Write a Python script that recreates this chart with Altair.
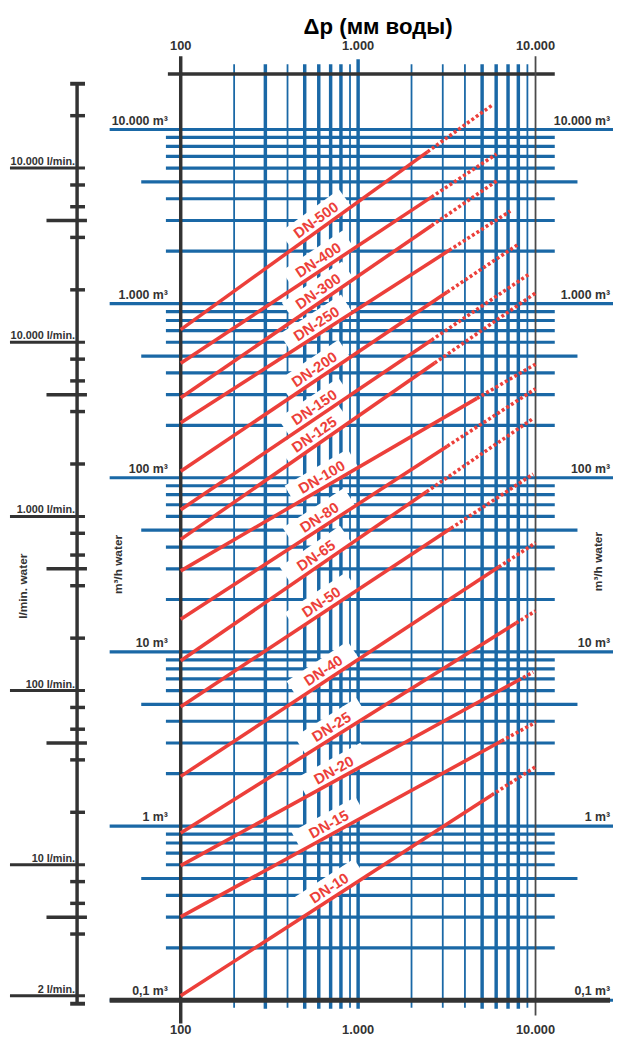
import math
import altair as alt
import pandas as pd

# ---------------- values ----------------
dn_labels = ["DN-500", "DN-400", "DN-300", "DN-250", "DN-200", "DN-150", "DN-125", "DN-100",
             "DN-80", "DN-65", "DN-50", "DN-40", "DN-25", "DN-20", "DN-15", "DN-10"]
# flow (m3/h) at dp = 100 mm water
q_start = [709, 455, 288, 207, 109, 65.5, 44.3, 29.2, 15.4, 8.9, 4.85, 1.93, 0.913, 0.593, 0.301, 0.106]
# end of each line (dp in mm water, flow in m3/h)
dp_end = [5650, 6030, 6190, 7210, 8100, 9320, 10000, 10000, 10000, 9700, 9700, 10000, 10000, 9700, 10000, 10000]
q_end = [13700, 7230, 5150, 3400, 2210, 1490, 1150, 449, 324, 219, 105, 42.3, 17.2, 7.66, 3.94, 2.19]
# dp where the dotted part of each line begins
dp_dotted = [2460, 2590, 2590, 3260, 3180, 2590, 2700, 4670, 3180, 2430, 3340, 6200, 7770, 8000, 6430, 5650]
# dp where each DN label sits on its line
dp_label = [624, 641, 641, 624, 609, 609, 609, 666, 649, 624, 666, 683, 757, 776, 728, 738]

# grid
q_decades = [0.1, 1, 10, 100, 1000, 10000]
q_fives = [0.5, 5, 50, 500, 5000]
q_minor = [d * m for d in [0.1, 1, 10, 100, 1000] for m in [2, 3, 4, 6, 7, 8, 9]]
dp_thick = [300, 500, 600, 700, 800, 1000, 5000, 6000, 7000, 8000]
dp_thin = [200, 400, 900, 2000, 3000, 4000, 9000]

# axis labels
dp_ticks = [100, 1000, 10000]
dp_tick_text = ["100", "1.000", "10.000"]
q_label_vals = [10000, 1000, 100, 10, 1, 0.1]
q_label_text = ["10.000 m³", "1.000 m³", "100 m³", "10 m³", "1 m³", "0,1 m³"]

# l/min scale, positions expressed in m3/h
lmin_long = [6000, 600, 60, 6, 0.6, 0.106]
lmin_text = ["10.000 l/min.", "10.000 l/min.", "1.000 l/min.", "100 l/min.", "10 l/min.", "2 l/min."]
lmin_mid = [3000, 300, 30, 3, 0.3]
lmin_short = [12000, 4800, 3600, 2400, 1200, 480, 360, 240, 120, 48, 36, 24, 12,
              4.8, 3.6, 2.4, 1.2, 0.48, 0.36, 0.24]
lmin_caps = [18300, 0.0955]

# ---------------- layout ----------------
W, H = 613, 1039
X0, XPD = 175.0, 179.75      # plot px of dp=100, px per decade
Y01, YPD = 998.5, 176.46     # plot px of q=0.1, px per decade
x_dom = [10 ** (2 - X0 / XPD), 10 ** (2 + (W - X0) / XPD)]
y_dom = [10 ** (-1 - (H - Y01) / YPD), 10 ** (-1 + Y01 / YPD)]

BLUE = "#1a68a6"
RED = "#ec3f3a"
DARK = "#333333"
NARROW = "Liberation Sans, Arial, sans-serif"
SANS = "Liberation Sans, Arial, sans-serif"

xs = alt.Scale(type="log", domain=x_dom, nice=False)
ys = alt.Scale(type="log", domain=y_dom, nice=False)


def X():
    return alt.X("dp:Q", scale=xs, axis=None)


def Y():
    return alt.Y("q:Q", scale=ys, axis=None)


def p(v):
    return v - 8  # page pixel -> plot pixel


def hrule(vals, x1, x2, width, color):
    return alt.Chart(pd.DataFrame({"q": vals})).mark_rule(strokeWidth=width, color=color).encode(
        y=Y(), x=alt.value(p(x1)), x2=alt.value(p(x2)))


def vrule(vals, y1, y2, width, color):
    return alt.Chart(pd.DataFrame({"dp": vals})).mark_rule(strokeWidth=width, color=color).encode(
        x=X(), y=alt.value(p(y1)), y2=alt.value(p(y2)))


def lrule(vals, x1, x2, width):
    return hrule(vals, x1, x2, width, DARK)


layers = []
# blue grid
layers.append(hrule(q_decades, 111, 621, 3.2, BLUE))
layers.append(hrule(q_fives, 143, 585, 3.2, BLUE))
layers.append(hrule(q_minor, 168, 562, 3.2, BLUE))
layers.append(vrule(dp_thin, 58, 1014, 1.8, BLUE))
layers.append(vrule([d for d in dp_thick if d != 1000], 58, 1015, 3.5, BLUE))
layers.append(vrule([1000], 53, 1015, 3.5, BLUE))

# black frame
layers.append(alt.Chart(pd.DataFrame({"q": [1]})).mark_rule(strokeWidth=3.5, color=DARK).encode(
    y=alt.value(p(68)), x=alt.value(p(170)), x2=alt.value(p(562))))
layers.append(vrule([100], 50, 1030, 3.5, DARK))
layers.append(vrule([10000], 50, 1022, 1.8, "#4a4a4a"))
layers.append(hrule([0.1], 111, 618, 5, DARK))

# l/min scale
layers.append(alt.Chart(pd.DataFrame({"q": [1]})).mark_rule(strokeWidth=3.5, color=DARK).encode(
    x=alt.value(p(78)), y=alt.value(p(78)), y2=alt.value(p(1010))))
layers.append(lrule(lmin_long, 10, 86, 3))
layers.append(lrule(lmin_mid, 47, 88, 3.5))
layers.append(lrule(lmin_short, 71, 86, 3.5))
layers.append(lrule(lmin_caps, 71, 86, 4))

# DN lines
solid, dotted, lab = [], [], []
for i, dn in enumerate(dn_labels):
    k = math.log10(q_end[i] / q_start[i]) / math.log10(dp_end[i] / 100)
    qd = q_start[i] * (dp_dotted[i] / 100) ** k
    solid += [{"dn": dn, "dp": 100, "q": q_start[i], "o": 0},
              {"dn": dn, "dp": dp_dotted[i], "q": qd, "o": 1}]
    dotted += [{"dn": dn, "dp": dp_dotted[i], "q": qd, "o": 0},
               {"dn": dn, "dp": dp_end[i], "q": q_end[i], "o": 1}]
    ql = q_start[i] * (dp_label[i] / 100) ** k
    ang = 360 - math.degrees(math.atan(k * YPD / XPD))
    lab.append({"dn": dn, "dp": dp_label[i], "q": ql, "ang": ang})

lab_df = pd.DataFrame(lab)
box_path = "M-1,-0.58L1,-0.58L1,0.04L-1,0.04Z"
layers.append(alt.Chart(lab_df).mark_point(shape=box_path, filled=True, fill="white", opacity=1,
                                           strokeWidth=0, size=5476).encode(
    x=X(), y=Y(), angle=alt.Angle("ang:Q", scale=None)))
layers.append(alt.Chart(pd.DataFrame(solid)).mark_line(color=RED, strokeWidth=3.6).encode(
    x=X(), y=Y(), detail="dn:N", order="o:Q"))
layers.append(alt.Chart(pd.DataFrame(dotted)).mark_line(color=RED, strokeWidth=3.6, strokeDash=[3, 2.5]).encode(
    x=X(), y=Y(), detail="dn:N", order="o:Q"))
layers.append(alt.Chart(lab_df).mark_text(font=NARROW, fontSize=15, fontWeight="bold", color=RED,
                                          align="center", baseline="middle", dy=-10).encode(
    x=X(), y=Y(), text="dn:N", angle=alt.Angle("ang:Q", scale=None)))

# labels
ql_df = pd.DataFrame({"q": q_label_vals, "t": q_label_text})
for xr in (170, 618):
    layers.append(alt.Chart(ql_df).mark_text(font=NARROW, fontSize=12.5, fontWeight="bold", color=DARK,
                                             align="right", baseline="alphabetic", dy=-5).encode(
        y=Y(), x=alt.value(p(xr)), text="t:N"))
dpt_df = pd.DataFrame({"dp": dp_ticks, "t": dp_tick_text})
for yb in (44, 1041):
    layers.append(alt.Chart(dpt_df).mark_text(font=NARROW, fontSize=13, fontWeight="bold", color=DARK,
                                              align="center", baseline="alphabetic").encode(
        x=X(), y=alt.value(p(yb)), text="t:N"))
layers.append(alt.Chart(pd.DataFrame({"q": lmin_long, "t": lmin_text})).mark_text(
    font=NARROW, fontSize=11, fontWeight="bold", color=DARK, align="right",
    baseline="alphabetic", dy=-3).encode(y=Y(), x=alt.value(p(76)), text="t:N"))

# axis titles
titles = [("l/min. water", 23, 587), ("m³/h water", 120, 565), ("m³/h water", 606, 562)]
for t, tx, ty in titles:
    layers.append(alt.Chart(pd.DataFrame({"t": [t]})).mark_text(
        font=NARROW, fontSize=12, fontWeight="bold", color=DARK, angle=270,
        align="center", baseline="middle").encode(
        x=alt.value(p(tx)), y=alt.value(p(ty)), text="t:N"))

layers.append(alt.Chart(pd.DataFrame({"t": ["Δp (мм воды)"]})).mark_text(
    font=SANS, fontSize=22.5, fontWeight="bold", color="#000000", align="center",
    baseline="alphabetic").encode(x=alt.value(p(383)), y=alt.value(p(27)), text="t:N"))

chart = alt.layer(*layers).properties(
    width=W, height=H, padding=0, autosize=alt.AutoSizeParams(type="none"),
    background="white"
).configure_view(stroke=None)

chart.save("out.html", embed_options={"renderer": "svg", "actions": False})
